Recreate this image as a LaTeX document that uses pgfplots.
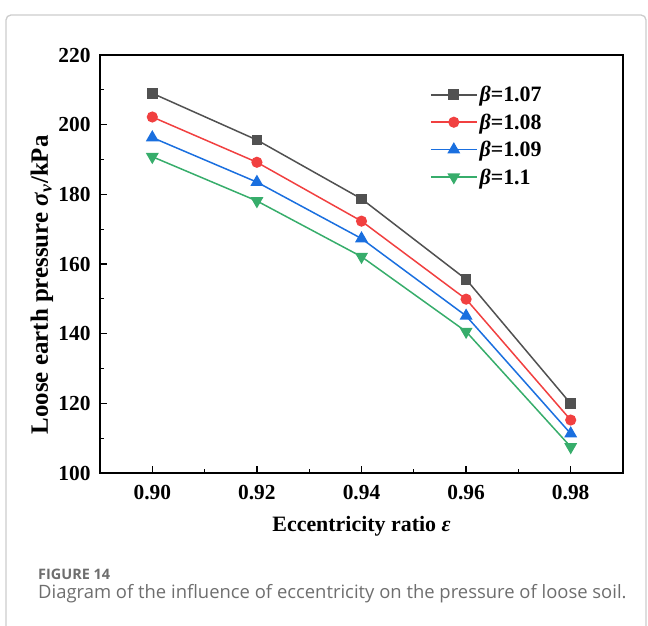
\documentclass[border=0pt]{standalone}
\usepackage{fontspec}
\setmainfont{Liberation Serif}
\newfontfamily\capfont{Open Sans}
\usepackage{pgfplots}
\pgfplotsset{compat=1.18}
\definecolor{cK}{HTML}{515151}
\definecolor{cR}{HTML}{F14040}
\definecolor{cB}{HTML}{1A6FDF}
\definecolor{cG}{HTML}{37AD6B}
\definecolor{capgray}{HTML}{6E6E6E}
\begin{document}
\begin{tikzpicture}[x=1bp,y=1bp]
\useasboundingbox (0,0) rectangle (648,626);
\draw[black!20, line width=1.3bp, rounded corners=5bp] (6,-20) rectangle (646,611);
\begin{axis}[
  at={(100bp,153bp)}, anchor=south west,
  width=523bp, height=418bp, scale only axis,
  xmin=0.89, xmax=0.99, ymin=100, ymax=220,
  xtick={0.90,0.92,0.94,0.96,0.98},
  ytick={100,120,140,160,180,200,220},
  minor x tick num=1, minor y tick num=1,
  xtick pos=bottom, ytick pos=left,
  tick align=inside,
  major tick length=7bp, minor tick length=4bp,
  axis line style={line width=1.6bp},
  every tick/.style={line width=1.3bp, black},
  xticklabel style={/pgf/number format/fixed, /pgf/number format/fixed zerofill, /pgf/number format/precision=2},
  /pgf/number format/assume math mode=true,
  tick label style={font=\fontsize{21.5}{24}\selectfont\bfseries},
  xticklabel style={yshift=-9bp},
  yticklabel style={xshift=-6bp},
  xlabel style={font=\fontsize{22}{26}\selectfont\bfseries, yshift=-9bp},
  ylabel style={font=\fontsize{25}{29}\selectfont\bfseries, at={(axis description cs:-0.111,0.45)}, anchor=center, rotate=0},
  xlabel={Eccentricity ratio \textit{ε}},
  ylabel={Loose earth pressure \textit{σ}\textsubscript{\textit{v}}/kPa},
  legend style={at={(0.625,0.935)}, anchor=north west, draw=none, fill=none,
    font=\fontsize{22}{26}\selectfont\bfseries, row sep=6.5bp,
    /tikz/every even column/.append style={column sep=10bp}},
  legend cell align=left,
  legend image code/.code={%
    \draw[mark repeat=2,mark phase=2,#1] plot coordinates {(0bp,0bp) (23bp,0bp) (46bp,0bp)};},
  every axis plot/.append style={line width=1.5bp},
]
\addplot[cK, mark=square*, mark size=4.6bp, mark options={solid}] coordinates {
(0.90,209.0) (0.92,195.6) (0.94,178.7) (0.96,155.6) (0.98,119.9)};
\addlegendentry{\textit{β}=1.07}
\addplot[cR, mark=*, mark size=4.8bp] coordinates {
(0.90,202.2) (0.92,189.2) (0.94,172.3) (0.96,149.9) (0.98,115.2)};
\addlegendentry{\textit{β}=1.08}
\addplot[cB, mark=triangle*, mark size=6bp] coordinates {
(0.90,196.3) (0.92,183.5) (0.94,167.3) (0.96,145.1) (0.98,111.3)};
\addlegendentry{\textit{β}=1.09}
\addplot[cG, mark=triangle*, mark size=6bp, mark options={rotate=180}] coordinates {
(0.90,190.8) (0.92,178.1) (0.94,162.1) (0.96,140.6) (0.98,107.5)};
\addlegendentry{\textit{β}=1.1}
\end{axis}
\node[anchor=west, inner sep=0, text=capgray, font=\capfont\fontsize{14.5}{16}\selectfont\bfseries] at (38,52) {FIGURE 14};
\node[anchor=west, inner sep=0, text=capgray, font=\capfont\fontsize{18.5}{20}\selectfont] at (38,32) {Diagram of the influence of eccentricity on the pressure of loose soil.};
\end{tikzpicture}
\end{document}
